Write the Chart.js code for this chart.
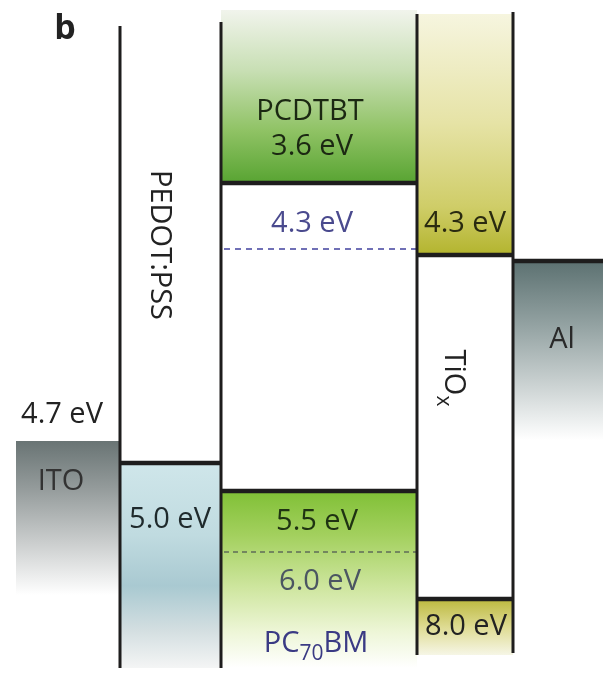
<!DOCTYPE html>
<html lang="en">
<head>
<meta charset="UTF-8">
<title>Energy level diagram</title>
<script src="https://cdn.jsdelivr.net/npm/chart.js"></script>
<style>
  html, body { margin: 0; padding: 0; background: #fff; }
  #wrap { position: relative; width: 603px; height: 673px; }
</style>
</head>
<body>
<div id="wrap"><canvas id="diagram"></canvas></div>
<script>
// Schematic band diagram (not to scale). x and y are diagram units,
// y grows downward (deeper energy).
const materials = ['ITO', 'PEDOT:PSS', 'PCDTBT:PC70BM', 'TiOx', 'Al'];
const columnEdges = [16, 120, 221, 417, 513, 603];

// energies printed on the figure (eV)
const levelNames  = ['ITO', 'PEDOT:PSS', 'PCDTBT LUMO', 'PC70BM LUMO', 'PCDTBT HOMO', 'PC70BM HOMO', 'TiOx CB', 'TiOx VB', 'Al'];
const levelEnergy = [4.7, 5.0, 3.6, 4.3, 5.5, 6.0, 4.3, 8.0, 4.3];
const levelDepth  = [441, 463, 183, 249, 491, 552, 255, 599, 261];
const levelColumn = [0, 1, 2, 2, 2, 2, 3, 3, 4];

// shaded bands: column, top, bottom
const bandColumn = [0, 1, 2, 2, 3, 3, 4];
const bandTop    = [441, 463, 10, 491, 14, 599, 261];
const bandBottom = [595, 668, 183, 668, 255, 655, 440];

// column walls: x edge index, top, bottom
const wallEdge   = [1, 2, 3, 4];
const wallTop    = [26, 22, 14, 12];
const wallBottom = [668, 668, 655, 653];

const solidLevels  = [1, 2, 4, 6, 7, 8];   // drawn as thick lines
const dashedLevels = [3, 5];

// gradient stops for each band (style)
const bandStops = [
  [[0, '#697474'], [0.3, '#939a9a'], [0.65, '#c9cccc'], [1, '#ffffff']],
  [[0, '#cfe6ea'], [0.35, '#c0dbe0'], [0.6, '#a9c9d1'], [0.82, '#d4dfe1'], [1, '#f4f5f5']],
  [[0, '#f1f4ec'], [0.35, '#c8dfb4'], [0.7, '#8fc264'], [1, '#58a432']],
  [[0, '#80c036'], [0.25, '#a3d05e'], [0.55, '#cfe6a0'], [0.8, '#eef6d8'], [1, '#ffffff']],
  [[0, '#f6f5df'], [0.45, '#e6e3a6'], [0.8, '#cfcd68'], [1, '#b3b42e']],
  [[0, '#bcb83e'], [0.5, '#dedb92'], [1, '#f6f6e6']],
  [[0, '#5c7171'], [0.35, '#92a1a1'], [0.7, '#ccd3d3'], [1, '#ffffff']]
];
const dashColors = { 3: '#7070b6', 5: '#5f6c58' };

const FONT = '"Open Sans", "DejaVu Sans", sans-serif';

// text on the figure; x, y are diagram units (y = baseline), parts allow subscripts
const textItems = [
  { parts: [['b']], x: 65, y: 39, size: 34, bold: true, color: '#222' },
  { parts: [['4.7 eV']], x: 62, y: 423, color: '#222' },
  { parts: [['ITO']], x: 61, y: 490, color: '#333' },
  { parts: [['5.0 eV']], x: 170, y: 528, color: '#1f2a2c' },
  { parts: [['PEDOT:PSS']], x: 151, y: 245, rotate: true, color: '#222' },
  { parts: [['PCDTBT']], x: 310, y: 120, color: '#1b2812' },
  { parts: [['3.6 eV']], x: 312, y: 155, color: '#1b2812' },
  { parts: [['4.3 eV']], x: 312, y: 232, color: '#4a4a8e' },
  { parts: [['4.3 eV']], x: 465, y: 232, color: '#2a2a10' },
  { parts: [['TiO'], ['x', true]], x: 445, y: 378, rotate: true, color: '#222' },
  { parts: [['Al']], x: 562, y: 348, color: '#2a2a2a' },
  { parts: [['5.5 eV']], x: 317, y: 530, color: '#1f3312' },
  { parts: [['6.0 eV']], x: 320, y: 590, color: '#4b5662' },
  { parts: [['PC'], ['70', true], ['BM']], x: 316, y: 652, color: '#3a3a84' },
  { parts: [['8.0 eV']], x: 466, y: 635, color: '#222' }
];

function bandGradient(chart, i) {
  const area = chart.chartArea;
  if (!area) return bandStops[i][0][1];
  const y = chart.scales.y;
  const g = chart.ctx.createLinearGradient(0, y.getPixelForValue(bandTop[i]), 0, y.getPixelForValue(bandBottom[i]));
  bandStops[i].forEach(s => g.addColorStop(s[0], s[1]));
  return g;
}

const datasets = [];

// level lines on top
solidLevels.forEach(i => {
  const c = levelColumn[i];
  datasets.push({
    label: levelNames[i] + ' ' + levelEnergy[i] + ' eV',
    data: [{ x: columnEdges[c], y: levelDepth[i] }, { x: columnEdges[c + 1], y: levelDepth[i] }],
    borderColor: '#1e1d1d', borderWidth: 4.5, borderCapStyle: 'butt',
    pointRadius: 0, showLine: true, fill: false, order: 0
  });
});

wallEdge.forEach((e, i) => {
  datasets.push({
    label: 'wall ' + e,
    data: [{ x: columnEdges[e], y: wallTop[i] }, { x: columnEdges[e], y: wallBottom[i] }],
    borderColor: '#1e1d1d', borderWidth: 3, borderCapStyle: 'butt',
    pointRadius: 0, showLine: true, fill: false, order: 1
  });
});

dashedLevels.forEach(i => {
  const c = levelColumn[i];
  datasets.push({
    label: levelNames[i] + ' ' + levelEnergy[i] + ' eV',
    data: [{ x: columnEdges[c] + 3, y: levelDepth[i] }, { x: columnEdges[c + 1], y: levelDepth[i] }],
    borderColor: dashColors[i], borderWidth: i === 3 ? 2 : 1.5, borderDash: i === 3 ? [6, 5] : [5, 4],
    pointRadius: 0, showLine: true, fill: false, order: 2
  });
});

bandColumn.forEach((c, i) => {
  datasets.push({
    label: materials[c] + ' band',
    data: [{ x: columnEdges[c], y: bandTop[i] }, { x: columnEdges[c + 1], y: bandTop[i] }],
    borderWidth: 0, pointRadius: 0, showLine: true,
    backgroundColor: ctx => bandGradient(ctx.chart, i),
    fill: { value: bandBottom[i] }, order: 3
  });
});

const textPlugin = {
  id: 'diagramText',
  afterDatasetsDraw(chart) {
    const ctx = chart.ctx;
    const sx = chart.scales.x, sy = chart.scales.y;
    textItems.forEach(t => {
      const size = t.size || 29;
      const main = (t.bold ? 'bold ' : '') + size + 'px ' + FONT;
      const sub = Math.round(size * 0.72) + 'px ' + FONT;
      ctx.save();
      ctx.textBaseline = 'alphabetic';
      ctx.textAlign = 'left';
      ctx.fillStyle = t.color;
      let total = 0;
      t.parts.forEach(p => { ctx.font = p[1] ? sub : main; total += ctx.measureText(p[0]).width; });
      ctx.translate(sx.getPixelForValue(t.x), sy.getPixelForValue(t.y));
      if (t.rotate) ctx.rotate(Math.PI / 2);
      let x = -total / 2;
      t.parts.forEach(p => {
        ctx.font = p[1] ? sub : main;
        ctx.fillText(p[0], x, p[1] ? size * 0.28 : 0);
        x += ctx.measureText(p[0]).width;
      });
      ctx.restore();
    });
  }
};

new Chart(document.getElementById('diagram'), {
  type: 'scatter',
  data: { datasets },
  options: {
    responsive: true,
    maintainAspectRatio: false,
    animation: false,
    layout: { padding: 0 },
    plugins: { legend: { display: false }, tooltip: { enabled: false } },
    scales: {
      x: { type: 'linear', min: 0, max: 603, display: false },
      y: { type: 'linear', min: 0, max: 673, reverse: true, display: false }
    }
  },
  plugins: [textPlugin]
});
</script>
</body>
</html>
